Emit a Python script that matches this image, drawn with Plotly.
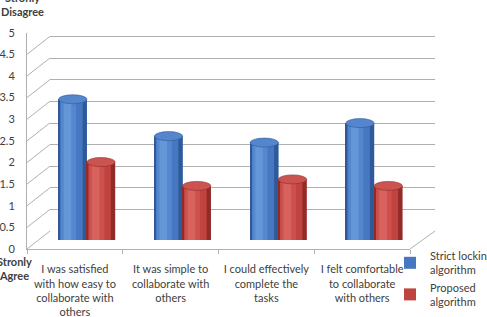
import plotly.graph_objects as go

# ---- data ----
categories = [
    "I was satisfied<br>with how easy to<br>collaborate with<br>others",
    "It was simple to<br>collaborate with<br>others",
    "I could effectively<br>complete the<br>tasks",
    "I felt comfortable<br>to collaborate<br>with others",
]
strict_locking = [3.25, 2.4, 2.25, 2.7]
proposed = [1.8, 1.25, 1.4, 1.25]
series_names = ["Strict locking<br>algorithm", "Proposed<br>algorithm"]
y_ticks = [0, 0.5, 1, 1.5, 2, 2.5, 3, 3.5, 4, 4.5, 5]

# ---- geometry (pixels) ----
W, H = 487, 317
def px_x(p): return p / W
def px_y(p): return (H - p) / H

FONT = "Lato"
TXT = "#404040"
GRID = "#b0b0b0"

front_x = (27, 410); front_y0, front_y5 = 249, 32.7
back_x = (50, 435);  back_y0, back_y5 = 231, 15
bar_x = (39, 422);   bar_y0, bar_y5 = 240, 23.5

fig = go.Figure()

# invisible helper traces so each subplot exists
fig.add_trace(go.Scatter(x=[categories[0]], y=[0], xaxis="x", yaxis="y", mode="markers",
                         marker=dict(opacity=0), showlegend=False, hoverinfo="skip"))
fig.add_trace(go.Scatter(x=[0], y=[0], xaxis="x2", yaxis="y2", mode="markers",
                         marker=dict(opacity=0), showlegend=False, hoverinfo="skip"))

idx = list(range(len(categories)))
BW = 0.295
series = [
    (strict_locking, series_names[0], -BW,
     dict(body="#4677C0", light="#5387CE", lighter="#6496D8", dark="#2E5A9A", top="#5585CC")),
    (proposed, series_names[1], 0.0,
     dict(body="#C0433F", light="#CC514D", lighter="#D8625E", dark="#8F2B28", top="#CC5450")),
]

shapes = []
for vals, name, off, col in series:
    # body
    fig.add_trace(go.Bar(x=idx, y=vals, offset=off, width=BW, xaxis="x3", yaxis="y3",
                         marker=dict(color=col["body"], line=dict(width=0)),
                         name=name, showlegend=True, legendgroup=name))
    # shading layers (left highlight, right shadow)
    for (a, b, c) in [(0.08, 0.62, col["light"]), (0.18, 0.45, col["lighter"]),
                      (0.0, 0.05, col["dark"]), (0.85, 1.0, col["dark"])]:
        fig.add_trace(go.Bar(x=idx, y=vals, offset=off + a * BW, width=(b - a) * BW,
                             xaxis="x3", yaxis="y3",
                             marker=dict(color=c, line=dict(width=0)),
                             showlegend=False, legendgroup=name, hoverinfo="skip"))
    for i, v in zip(idx, vals):
        # bottom rounding
        shapes.append(dict(type="circle", xref="x3", yref="y3", layer="between",
                           x0=i + off, x1=i + off + BW, ysizemode="pixel", yanchor=0,
                           y0=-4.5, y1=4.5, fillcolor=col["body"], line=dict(width=0)))
        # top ellipse
        shapes.append(dict(type="circle", xref="x3", yref="y3", layer="above",
                           x0=i + off, x1=i + off + BW, ysizemode="pixel", yanchor=v,
                           y0=-4.5, y1=4.5, fillcolor=col["top"],
                           line=dict(width=0.6, color=col["dark"])))

# slanted side-wall grid lines & floor corner
dy = front_y0 - back_y0
for t in y_ticks:
    shapes.append(dict(type="line", xref="paper", yref="y", layer="below",
                       x0=px_x(front_x[0]), x1=px_x(back_x[0]),
                       ysizemode="pixel", yanchor=t, y0=0, y1=dy,
                       line=dict(color=GRID, width=1)))
shapes.append(dict(type="line", xref="paper", yref="y", layer="below",
                   x0=px_x(front_x[1]), x1=px_x(back_x[1]),
                   ysizemode="pixel", yanchor=0, y0=0, y1=dy,
                   line=dict(color=GRID, width=1)))

fig.update_layout(
    width=W, height=H, autosize=False,
    margin=dict(l=0, r=0, t=0, b=0, autoexpand=False),
    paper_bgcolor="white", plot_bgcolor="rgba(0,0,0,0)",
    barmode="overlay",
    font=dict(family=FONT, size=11, color=TXT),
    showlegend=True,
    legend=dict(x=px_x(390), y=px_y(242), xanchor="left", yanchor="top",
                bgcolor="rgba(0,0,0,0)", font=dict(size=11, color=TXT),
                tracegroupgap=0, itemclick=False),
    xaxis=dict(domain=[px_x(front_x[0]), px_x(front_x[1])], anchor="y",
               type="category", categoryorder="array", categoryarray=categories,
               range=[-0.5, 3.5], showgrid=False, zeroline=False,
               showline=True, linecolor=GRID, linewidth=1,
               ticks="outside", tickson="boundaries", ticklen=4, tickcolor=GRID,
               ticklabelstandoff=10, tickangle=0, automargin=False,
               tickfont=dict(size=11, color=TXT)),
    yaxis=dict(domain=[px_y(front_y0), px_y(front_y5)], anchor="x",
               range=[0, 5], tickvals=y_ticks, showgrid=False, zeroline=False,
               showline=True, linecolor=GRID, linewidth=1, ticks="",
               ticklabelstandoff=9, automargin=False,
               tickfont=dict(size=11, color=TXT)),
    xaxis2=dict(domain=[px_x(back_x[0]), px_x(back_x[1])], anchor="y2",
                range=[0, 1], visible=False, automargin=False),
    yaxis2=dict(domain=[px_y(back_y0), px_y(back_y5)], anchor="x2",
                range=[0, 5], tickvals=y_ticks, showgrid=True, gridcolor=GRID,
                gridwidth=1, zeroline=False, showline=False, showticklabels=False,
                ticks="", automargin=False),
    xaxis3=dict(domain=[px_x(bar_x[0]), px_x(bar_x[1])], anchor="y3",
                range=[-0.5, 3.5], visible=False, automargin=False),
    yaxis3=dict(domain=[px_y(bar_y0), px_y(bar_y5)], anchor="x3",
                range=[0, 5], visible=False, automargin=False),
    shapes=shapes,
    annotations=[
        dict(text="<b>Stronly<br>Disagree</b>", xref="paper", yref="paper",
             x=px_x(22), y=px_y(4), xanchor="center", yanchor="middle",
             showarrow=False, font=dict(size=11, color=TXT)),
        dict(text="<b>Stronly<br>Agree</b>", xref="paper", yref="paper",
             x=px_x(14), y=px_y(268), xanchor="center", yanchor="middle",
             showarrow=False, font=dict(size=11, color=TXT)),
    ],
)

fig.write_html("out.html")
